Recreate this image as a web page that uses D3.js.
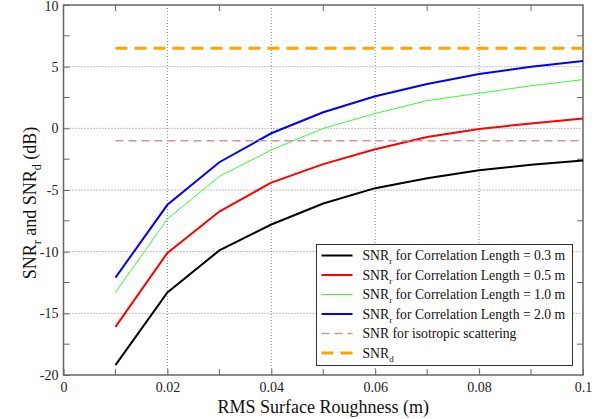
<!DOCTYPE html>
<html>
<head>
<meta charset="utf-8">
<script src="https://cdn.jsdelivr.net/npm/d3@7/dist/d3.min.js"></script>
<style>
  body { margin: 0; background: #fff; }
  text { font-family: "Liberation Serif", "DejaVu Serif", serif; }
</style>
</head>
<body>
<svg id="chart" width="611" height="419"></svg>
<script>
// roughness values (m)
var roughness = [0.01, 0.02, 0.03, 0.04, 0.05, 0.06, 0.07, 0.08, 0.09, 0.1];

// SNR_r for each correlation length (dB)
var snrL03 = [-19.2, -13.3, -9.9, -7.8, -6.1, -4.85, -4.05, -3.4, -2.95, -2.6];
var snrL05 = [-16.1, -10.1, -6.75, -4.4, -2.9, -1.7, -0.7, -0.05, 0.4, 0.8];
var snrL10 = [-13.3, -7.35, -3.9, -1.75, 0.0, 1.2, 2.25, 2.85, 3.45, 3.95];
var snrL20 = [-12.1, -6.2, -2.75, -0.4, 1.3, 2.6, 3.6, 4.4, 5.0, 5.45];

// horizontal reference levels
var snrIsotropic = -1.0;
var snrD = 6.5;

var xTicks = [0, 0.02, 0.04, 0.06, 0.08, 0.1];
var xTickLabels = ["0", "0.02", "0.04", "0.06", "0.08", "0.1"];
var xMinor = [0.01, 0.03, 0.05, 0.07, 0.09];
var yTicks = [-20, -15, -10, -5, 0, 5, 10];
var yMinor = [-17.5, -12.5, -7.5, -2.5, 2.5, 7.5];

var legendLabels = [
  {main: "SNR", sub: "r", rest: " for Correlation Length = 0.3 m"},
  {main: "SNR", sub: "r", rest: " for Correlation Length = 0.5 m"},
  {main: "SNR", sub: "r", rest: " for Correlation Length = 1.0 m"},
  {main: "SNR", sub: "r", rest: " for Correlation Length = 2.0 m"},
  {main: "SNR for isotropic scattering", sub: "", rest: ""},
  {main: "SNR", sub: "d", rest: ""}
];

var margin = {top: 5, right: 28, bottom: 44, left: 63.5},
    width = 611 - margin.left - margin.right,
    height = 419 - margin.top - margin.bottom;

var svg = d3.select("#chart");
var g = svg.append("g")
    .attr("transform", "translate(" + margin.left + "," + margin.top + ")");

var x = d3.scaleLinear().domain([0, 0.1]).range([0, width]);
var y = d3.scaleLinear().domain([-20, 10]).range([height, 0]);

// dotted grid at the inner major ticks
g.selectAll(".vgrid")
  .data(xTicks.slice(1, -1))
  .enter().append("line")
    .attr("x1", function(d) { return x(d); })
    .attr("x2", function(d) { return x(d); })
    .attr("y1", 0).attr("y2", height)
    .attr("stroke", "#888").attr("stroke-width", 1)
    .attr("stroke-dasharray", "1,2");

g.selectAll(".hgrid")
  .data(yTicks.slice(1, -1))
  .enter().append("line")
    .attr("y1", function(d) { return y(d); })
    .attr("y2", function(d) { return y(d); })
    .attr("x1", 0).attr("x2", width)
    .attr("stroke", "#888").attr("stroke-width", 1)
    .attr("stroke-dasharray", "1,2");

// axes, ticks pointing inward
var bottomAxis = d3.axisBottom(x).tickValues(xTicks)
    .tickFormat(function(d, i) { return xTickLabels[i]; })
    .tickSizeInner(-6).tickSizeOuter(0).tickPadding(7);
var leftAxis = d3.axisLeft(y).tickValues(yTicks)
    .tickFormat(function(d) { return String(d); })
    .tickSizeInner(-6).tickSizeOuter(0).tickPadding(5);

var xg = g.append("g").attr("transform", "translate(0," + height + ")").call(bottomAxis);
var yg = g.append("g").call(leftAxis);
[xg, yg].forEach(function(a) {
  a.select(".domain").remove();
  a.selectAll("line").attr("stroke", "#666");
  a.selectAll("text").attr("font-size", "14px").attr("fill", "#222")
    .style("font-family", "Liberation Serif");
});
// the top label sits a little low, as in the original
yg.selectAll("text").filter(function(d) { return d === 10; }).attr("dy", "0.42em");

// minor ticks on all four sides
g.selectAll(".xminB").data(xMinor).enter().append("line")
    .attr("x1", function(d) { return x(d); }).attr("x2", function(d) { return x(d); })
    .attr("y1", height).attr("y2", height - 6).attr("stroke", "#666");
g.selectAll(".xminT").data(xMinor).enter().append("line")
    .attr("x1", function(d) { return x(d); }).attr("x2", function(d) { return x(d); })
    .attr("y1", 0).attr("y2", 6).attr("stroke", "#666");
g.selectAll(".yminL").data(yMinor).enter().append("line")
    .attr("y1", function(d) { return y(d); }).attr("y2", function(d) { return y(d); })
    .attr("x1", 0).attr("x2", 6).attr("stroke", "#666");
g.selectAll(".yminR").data(yMinor).enter().append("line")
    .attr("y1", function(d) { return y(d); }).attr("y2", function(d) { return y(d); })
    .attr("x1", width).attr("x2", width - 6).attr("stroke", "#666");

// frame
g.append("rect").attr("x", 0).attr("y", 0)
    .attr("width", width).attr("height", height)
    .attr("fill", "none").attr("stroke", "#666").attr("stroke-width", 1.5);

// series
var series = [
  {vals: snrL03, color: "#000000", w: 2, dash: null},
  {vals: snrL05, color: "#ff0000", w: 2, dash: null},
  {vals: snrL10, color: "#33ff33", w: 1, dash: null},
  {vals: snrL20, color: "#0000ff", w: 2, dash: null},
  {vals: roughness.map(function() { return snrIsotropic; }), color: "#cc9999", w: 1.5, dash: "8,5"},
  {vals: roughness.map(function() { return snrD; }), color: "#ffa500", w: 3, dash: "12,7"}
];

var line = d3.line()
    .x(function(d, i) { return x(roughness[i]); })
    .y(function(d) { return y(d); });

series.forEach(function(s) {
  g.append("path")
    .datum(s.vals)
    .attr("d", line)
    .attr("fill", "none")
    .attr("stroke", s.color)
    .attr("stroke-width", s.w)
    .attr("stroke-dasharray", s.dash);
});

// legend
var lg = svg.append("g").attr("transform", "translate(316.5,244.5)");
lg.append("rect").attr("width", 256).attr("height", 121)
    .attr("fill", "#fff").attr("stroke", "#333").attr("stroke-width", 1);

series.forEach(function(s, i) {
  var yy = 11 + i * 19.5;
  lg.append("line").attr("x1", 5).attr("x2", 36).attr("y1", yy).attr("y2", yy)
    .attr("stroke", s.color).attr("stroke-width", s.w)
    .attr("stroke-dasharray", s.dash);
  var t = lg.append("text").attr("x", 46).attr("y", yy + 4.5)
    .attr("font-size", "13.7px").attr("fill", "#111");
  t.append("tspan").text(legendLabels[i].main);
  if (legendLabels[i].sub) {
    t.append("tspan").attr("dy", 4).attr("font-size", "9px").text(legendLabels[i].sub);
    t.append("tspan").attr("dy", -4).text(legendLabels[i].rest);
  }
});

// axis titles
svg.append("text")
    .attr("x", margin.left + width / 2).attr("y", 413)
    .attr("text-anchor", "middle").attr("font-size", "18px").attr("fill", "#111")
    .text("RMS Surface Roughness (m)");

var yt = svg.append("text")
    .attr("transform", "translate(36," + (margin.top + height / 2 + 13) + ") rotate(-90)")
    .attr("text-anchor", "middle").attr("font-size", "18px").attr("fill", "#111");
yt.append("tspan").text("SNR");
yt.append("tspan").attr("dy", 5).attr("font-size", "12px").text("r");
yt.append("tspan").attr("dy", -5).text(" and SNR");
yt.append("tspan").attr("dy", 5).attr("font-size", "12px").text("d");
yt.append("tspan").attr("dy", -5).text(" (dB)");
</script>
</body>
</html>
